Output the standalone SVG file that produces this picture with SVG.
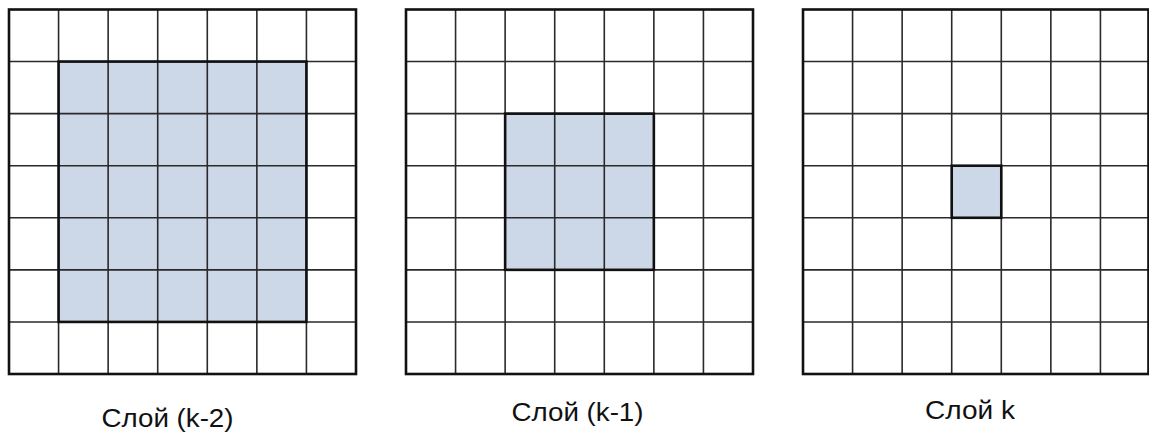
<svg xmlns="http://www.w3.org/2000/svg" width="1149" height="434" viewBox="0 0 1149 434">
<style>
.bg{fill:#ffffff}
.hl{fill:#ccd7e8}
.grid{stroke:#2a2a2a;stroke-width:1.6;fill:none}
.outer{stroke:#111111;stroke-width:2.6;fill:none}
.hlb{stroke:#111111;stroke-width:2.6;fill:none}
.lbl{font-family:"Liberation Sans",Arial,sans-serif;font-size:25px;fill:#111111}
</style>
<defs>
<g id="lines">
<path class="grid" d="M49.57 0V364.5M99.14 0V364.5M148.71 0V364.5M198.29 0V364.5M247.86 0V364.5M297.43 0V364.5M0 52.07H347M0 104.14H347M0 156.21H347M0 208.29H347M0 260.36H347M0 312.43H347"/>
</g>
</defs>
<rect class="bg" x="0" y="0" width="1149" height="434"/>
<g id="layer-k-2">
<rect class="hl" x="58.57" y="61.57" width="247.86" height="260.36"/>
<use href="#lines" x="9" y="9.5"/>
<rect class="hlb" x="58.57" y="61.57" width="247.86" height="260.36"/>
<rect class="outer" x="9" y="9.5" width="347" height="364.5"/>
<text class="lbl" x="101.5" y="426.5" textLength="132" lengthAdjust="spacingAndGlyphs">Слой (k-2)</text>
</g>
<g id="layer-k-1">
<rect class="hl" x="505.14" y="113.64" width="148.71" height="156.21"/>
<use href="#lines" x="406" y="9.5"/>
<rect class="hlb" x="505.14" y="113.64" width="148.71" height="156.21"/>
<rect class="outer" x="406" y="9.5" width="347" height="364.5"/>
<text class="lbl" x="511.5" y="421" textLength="132" lengthAdjust="spacingAndGlyphs">Слой (k-1)</text>
</g>
<g id="layer-k">
<rect class="hl" x="951.71" y="165.71" width="49.57" height="52.07"/>
<use href="#lines" x="803" y="9.5"/>
<rect class="hlb" x="951.71" y="165.71" width="49.57" height="52.07"/>
<rect class="outer" x="803" y="9.5" width="345.5" height="364.5"/>
<text class="lbl" x="925" y="418.5" textLength="90" lengthAdjust="spacingAndGlyphs">Слой k</text>
</g>
<g id="connectors"></g>
</svg>
